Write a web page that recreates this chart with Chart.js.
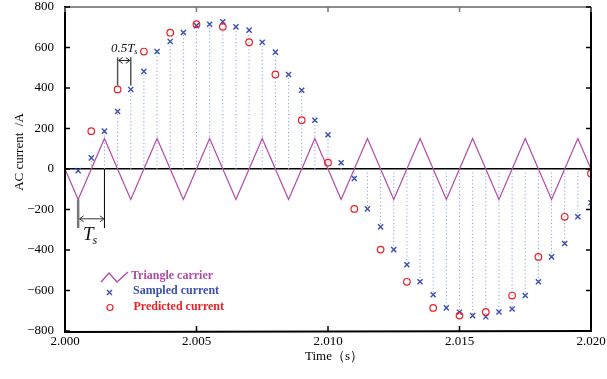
<!DOCTYPE html>
<html><head><meta charset="utf-8">
<script src="https://cdn.jsdelivr.net/npm/chart.js@4/dist/chart.umd.min.js"></script>
<style>html,body{margin:0;padding:0;background:#fff;}#wrap{width:607px;height:379px;}</style>
</head><body><div id="wrap"><canvas id="c" width="607" height="379"></canvas></div>
<script>
// ---- data ----
const sampleTimes = [2.0005,2.001,2.0015,2.002,2.0025,2.003,2.0035,2.004,2.0045,2.005,
  2.0055,2.006,2.0065,2.007,2.0075,2.008,2.0085,2.009,2.0095,2.010,
  2.0105,2.011,2.0115,2.012,2.0125,2.013,2.0135,2.014,2.0145,2.015,
  2.0155,2.016,2.0165,2.017,2.0175,2.018,2.0185,2.019,2.0195,2.020];
const sampledCurrent = [-8,55,187,284,393,482,580,630,674,708,
  715,727,702,686,626,577,467,389,241,169,
  31,-47,-197,-286,-398,-473,-557,-621,-686,-707,
  -724,-730,-706,-691,-625,-557,-434,-368,-236,-167];
const predictTimes = [2.001,2.002,2.003,2.004,2.005,2.006,2.007,2.008,2.009,2.010,
  2.011,2.012,2.013,2.014,2.015,2.016,2.017,2.018,2.019,2.020];
const predictedCurrent = [187,393,580,673,715,702,626,467,241,31,
  -197,-398,-557,-686,-724,-706,-625,-434,-236,-22];
const carrierTimes = [2.000,2.0005,2.0015,2.0025,2.0035,2.0045,2.0055,2.0065,2.0075,2.0085,2.0095,
  2.0105,2.0115,2.0125,2.0135,2.0145,2.0155,2.0165,2.0175,2.0185,2.0195,2.020];
const carrierValues = [0,-150,150,-150,150,-150,150,-150,150,-150,150,
  -150,150,-150,150,-150,150,-150,150,-150,150,0];
const xTickValues = [2.000,2.005,2.010,2.015,2.020];
const xTickLabels = ['2.000','2.005','2.010','2.015','2.020'];
const yTickValues = [-800,-600,-400,-200,0,200,400,600,800];
const yTickLabels = ['\u2212800','\u2212600','\u2212400','\u2212200','0','200','400','600','800'];
const legendLabels = ['Triangle carrier','Sampled current','Predicted current'];
const xTitle = 'Time\uFF08s\uFF09';
const yTitle = 'AC current  /A';

// ---- styles ----
const SERIF = '"Liberation Serif", "DejaVu Serif", serif';
const C_CARRIER = '#b24aa6';
const C_SAMPLE = '#3a4fb0';
const C_PRED = '#ec2027';
const C_STEM = '#7c8fd8';

const pts = (xs, ys) => xs.map((x, i) => ({x: x, y: ys[i]}));
const stemData = [];
sampleTimes.forEach((t, i) => { stemData.push({x: t, y: 0}, {x: t, y: sampledCurrent[i]}, {x: t, y: null}); });

function arrowH(ctx, x1, x2, y) {
  ctx.beginPath(); ctx.moveTo(x1, y); ctx.lineTo(x2, y);
  ctx.moveTo(x1 + 4, y - 3); ctx.lineTo(x1, y); ctx.lineTo(x1 + 4, y + 3);
  ctx.moveTo(x2 - 4, y - 3); ctx.lineTo(x2, y); ctx.lineTo(x2 - 4, y + 3);
  ctx.stroke();
}

const decor = {
  id: 'decor',
  afterDraw(chart) {
    const {ctx, chartArea: a, scales: {x, y}} = chart;
    ctx.save();
    // frame
    ctx.lineCap = 'butt';
    ctx.strokeStyle = '#8a8a8a'; ctx.lineWidth = 2;
    ctx.beginPath(); ctx.moveTo(a.left, a.top); ctx.lineTo(a.right, a.top); ctx.stroke();
    ctx.strokeStyle = '#000'; ctx.lineWidth = 2;
    ctx.beginPath(); ctx.moveTo(a.right, a.top); ctx.lineTo(a.right, a.bottom); ctx.stroke();
    ctx.beginPath(); ctx.moveTo(a.left, a.top - 1); ctx.lineTo(a.left, a.bottom + 1); ctx.lineTo(a.right + 1, a.bottom); ctx.stroke();
    // inward ticks
    ctx.lineWidth = 1.5;
    xTickValues.forEach(v => {
      const px = x.getPixelForValue(v);
      ctx.strokeStyle = '#000';
      ctx.beginPath(); ctx.moveTo(px, a.bottom); ctx.lineTo(px, a.bottom - 5); ctx.stroke();
      ctx.strokeStyle = '#777';
      ctx.beginPath(); ctx.moveTo(px, a.top); ctx.lineTo(px, a.top + 5); ctx.stroke();
    });
    yTickValues.forEach(v => {
      const py = y.getPixelForValue(v);
      ctx.strokeStyle = '#000';
      ctx.beginPath(); ctx.moveTo(a.left, py); ctx.lineTo(a.left + 5, py); ctx.stroke();
      ctx.beginPath(); ctx.moveTo(a.right, py); ctx.lineTo(a.right - 5, py); ctx.stroke();
    });
    // axis titles
    ctx.fillStyle = '#000';
    ctx.font = '13px ' + SERIF;
    ctx.textAlign = 'center'; ctx.textBaseline = 'middle';
    ctx.fillText(xTitle, (a.left + a.right) / 2 + 6, 357);
    ctx.save(); ctx.translate(20, 152); ctx.rotate(-Math.PI / 2); ctx.fillText(yTitle, 0, 0); ctx.restore();

    // 0.5Ts annotation
    const xa = x.getPixelForValue(predictTimes[1]);
    const xb = x.getPixelForValue(sampleTimes[4]);
    const yTop = y.getPixelForValue(552), yBot = y.getPixelForValue(412), yArr = y.getPixelForValue(536);
    ctx.strokeStyle = '#555'; ctx.lineWidth = 1.5;
    ctx.beginPath(); ctx.moveTo(xa, yTop); ctx.lineTo(xa, yBot); ctx.moveTo(xb, yTop); ctx.lineTo(xb, yBot); ctx.stroke();
    ctx.strokeStyle = '#222'; ctx.lineWidth = 1;
    arrowH(ctx, xa + 1, xb - 1, yArr);
    ctx.textAlign = 'left'; ctx.textBaseline = 'alphabetic';
    ctx.font = 'italic 13px ' + SERIF;
    const t1 = '0.5T';
    const w1 = ctx.measureText(t1).width;
    ctx.font = 'italic 8px ' + SERIF;
    const w2 = ctx.measureText('s').width;
    const cx = (xa + xb) / 2;
    const sx = cx - (w1 + w2) / 2;
    const by = y.getPixelForValue(578);
    ctx.font = 'italic 13px ' + SERIF; ctx.fillStyle = '#111';
    ctx.fillText(t1, sx, by);
    ctx.font = 'italic 8px ' + SERIF;
    ctx.fillText('s', sx + w1, by + 2);

    // Ts annotation
    const xc = x.getPixelForValue(carrierTimes[1]);
    const xd = x.getPixelForValue(carrierTimes[2]);
    const yLow = y.getPixelForValue(-292), yArr2 = y.getPixelForValue(-246);
    ctx.strokeStyle = '#777'; ctx.lineWidth = 2.5;
    ctx.beginPath(); ctx.moveTo(xc, y.getPixelForValue(carrierValues[1])); ctx.lineTo(xc, yLow); ctx.stroke();
    ctx.strokeStyle = '#000'; ctx.lineWidth = 1;
    ctx.beginPath(); ctx.moveTo(xd, y.getPixelForValue(0)); ctx.lineTo(xd, yLow); ctx.stroke();
    ctx.strokeStyle = '#333';
    arrowH(ctx, xc + 1.5, xd - 0.5, yArr2);
    ctx.fillStyle = '#111';
    ctx.font = 'italic 19px ' + SERIF;
    const wT = ctx.measureText('T').width;
    const tx = (xc + xd) / 2 - 1 - wT / 2 - 2;
    const ty = y.getPixelForValue(-349);
    ctx.fillText('T', tx, ty);
    ctx.font = 'italic 12px ' + SERIF;
    ctx.fillText('s', tx + wT - 1, ty + 4);

    // legend
    const lx = a.left, ly = a.top;
    ctx.strokeStyle = C_CARRIER; ctx.lineWidth = 1.3;
    ctx.beginPath();
    ctx.moveTo(lx + 36, ly + 275); ctx.lineTo(lx + 44, ly + 266); ctx.lineTo(lx + 52, ly + 275); ctx.lineTo(lx + 63, ly + 265);
    ctx.stroke();
    ctx.strokeStyle = C_SAMPLE; ctx.lineWidth = 1.4;
    const cxm = lx + 44.5, cym = ly + 285.5;
    ctx.beginPath(); ctx.moveTo(cxm - 2.5, cym - 2.5); ctx.lineTo(cxm + 2.5, cym + 2.5); ctx.moveTo(cxm + 2.5, cym - 2.5); ctx.lineTo(cxm - 2.5, cym + 2.5); ctx.stroke();
    ctx.strokeStyle = C_PRED; ctx.lineWidth = 1.2;
    ctx.beginPath(); ctx.arc(lx + 45, ly + 300.5, 3, 0, Math.PI * 2); ctx.stroke();
    ctx.font = 'bold 12px ' + SERIF; ctx.textBaseline = 'middle'; ctx.textAlign = 'left';
    ctx.fillStyle = C_CARRIER; ctx.fillText(legendLabels[0], lx + 66, ly + 268.5);
    ctx.fillStyle = C_SAMPLE; ctx.fillText(legendLabels[1], lx + 68, ly + 284);
    ctx.fillStyle = C_PRED; ctx.fillText(legendLabels[2], lx + 68.5, ly + 299.5);
    ctx.restore();
  }
};

new Chart(document.getElementById('c'), {
  type: 'scatter',
  data: {
    datasets: [
      { label: 'Predicted current', data: pts(predictTimes, predictedCurrent), showLine: false,
        pointStyle: 'circle', pointRadius: 3.3, pointBorderWidth: 1.2, pointBorderColor: C_PRED,
        pointBackgroundColor: 'rgba(0,0,0,0)' },
      { label: 'Sampled current', data: pts(sampleTimes, sampledCurrent), showLine: false,
        pointStyle: 'crossRot', pointRadius: 3.6, pointBorderWidth: 1.4, pointBorderColor: C_SAMPLE },
      { label: 'Triangle carrier', data: pts(carrierTimes, carrierValues), showLine: true,
        borderColor: C_CARRIER, borderWidth: 1.2, pointRadius: 0, tension: 0 },
      { label: 'stems', data: stemData, showLine: true, spanGaps: false,
        borderColor: C_STEM, borderWidth: 1, borderDash: [1, 2.6], pointRadius: 0 }
    ]
  },
  options: {
    responsive: false, animation: false, devicePixelRatio: 1,
    layout: { padding: { top: 7, right: 16, left: 0, bottom: 0 } },
    plugins: { legend: { display: false }, tooltip: { enabled: false } },
    scales: {
      x: {
        type: 'linear', min: 2.000, max: 2.020,
        afterBuildTicks: s => { s.ticks = xTickValues.map(v => ({value: v})); },
        afterFit: s => { s.height = 48; s.paddingLeft = 0; s.paddingRight = 0; },
        ticks: { callback: (v, i) => xTickLabels[i], autoSkip: false, maxRotation: 0, padding: 3,
                 color: '#000', font: { family: SERIF, size: 13 } },
        grid: { display: false, drawTicks: false },
        border: { display: false }
      },
      y: {
        type: 'linear', min: -800, max: 800,
        afterBuildTicks: s => { s.ticks = yTickValues.map(v => ({value: v})); },
        afterFit: s => { s.width = 65; s.paddingTop = 0; s.paddingBottom = 0; },
        ticks: { callback: (v, i) => yTickLabels[i], autoSkip: false, padding: 11,
                 color: '#000', font: { family: SERIF, size: 13 } },
        grid: { drawTicks: false, lineWidth: 1.5,
                color: c => (c.tick && c.tick.value === 0) ? '#000' : 'rgba(0,0,0,0)' },
        border: { display: false }
      }
    }
  },
  plugins: [decor]
});
</script>
</body></html>
